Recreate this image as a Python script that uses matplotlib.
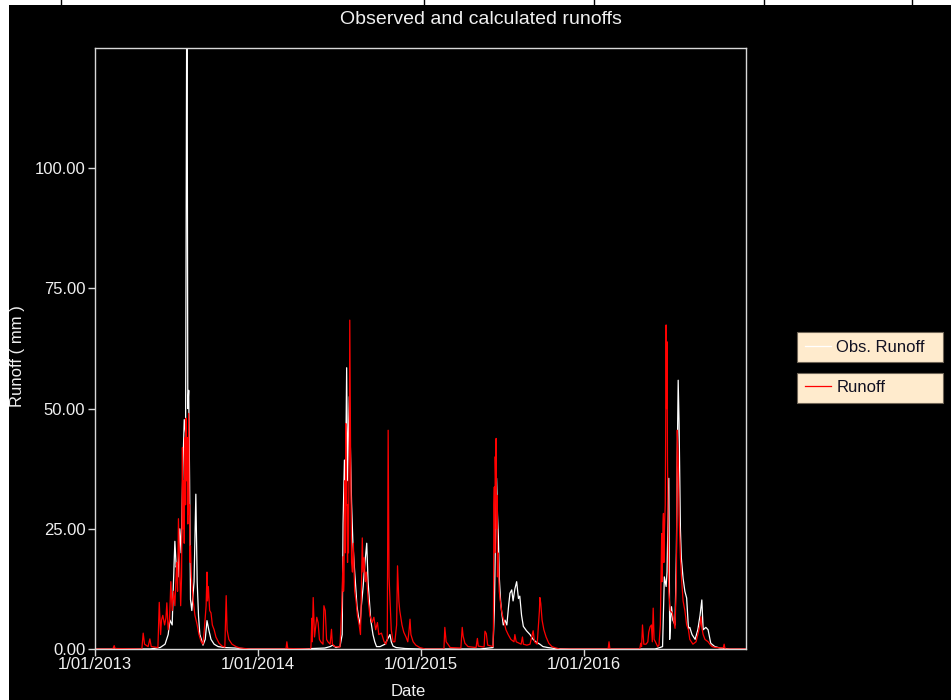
import matplotlib
matplotlib.use("Agg")
import matplotlib.pyplot as plt
import pandas as pd
from matplotlib.patches import Rectangle
from matplotlib.lines import Line2D

plt.rcParams['font.family'] = ['Liberation Sans', 'DejaVu Sans']

# ---------------- data (day offset from record start, runoff in mm) ----------------
record_start = "2013-01-01"
record_end_day = 1459

obs_2013 = [(0, 0), (123, 0), (146, 0.3), (157, 1), (164, 3), (168, 6), (173, 5), (175, 11.5),
            (179, 22.4), (182, 17), (184, 18), (186, 15), (190, 25), (193, 20), (197, 38),
            (200, 47.7), (203, 45), (206, 150), (208, 50), (210, 53.8), (212, 35), (214, 10.3),
            (217, 8), (222, 14), (226, 32.2), (229, 14), (232, 6.9), (235, 3), (240, 1.5),
            (242, 0.8), (247, 2), (251, 5.9), (255, 4), (260, 2), (267, 1), (276, 0.5),
            (291, 0.3), (314, 0.2), (347, 0)]
obs_2014 = [(459, 0), (515, 0.2), (527, 0.5), (533, 0.8), (540, 0.3), (549, 0.5), (554, 3),
            (556, 26.1), (559, 39.3), (561, 30), (564, 58.5), (566, 35), (568, 45), (570, 52.5),
            (575, 30.3), (578, 22), (582, 16), (585, 12), (587, 9), (590, 7), (594, 5), (597, 9),
            (601, 13), (605, 18), (609, 22), (612, 14), (615, 10), (618, 6), (623, 3), (627, 1.5),
            (631, 0.5), (639, 0.5), (650, 1), (661, 3), (664, 1.5), (668, 0.6), (675, 0.3),
            (695, 0.1), (728, 0)]
obs_2015 = [(751, 0), (863, 0), (892, 0.3), (895, 8), (897, 20), (900, 35.5), (902, 28),
            (904, 23.4), (906, 15), (909, 10), (911, 8), (915, 5), (919, 6), (923, 5), (927, 9),
            (930, 11.6), (934, 12.3), (937, 10), (941, 12.5), (945, 14), (949, 10.5), (952, 11),
            (956, 7), (960, 4.7), (967, 3.8), (975, 3), (982, 2), (988, 1.5), (997, 1),
            (1004, 0.5), (1015, 0.3), (1031, 0.1), (1064, 0)]
obs_2016 = [(1177, 0), (1255, 0), (1266, 0.3), (1272, 0.5), (1276, 15), (1280, 13), (1282, 16),
            (1286, 35.5), (1288, 2), (1290, 6), (1292, 8.8), (1295, 6), (1300, 5), (1303, 20),
            (1305, 40), (1307, 55.9), (1309, 47), (1312, 25), (1314, 19), (1318, 14.7),
            (1322, 12), (1326, 10.6), (1330, 4.3), (1333, 4.5), (1338, 3), (1345, 2), (1351, 4),
            (1356, 7), (1360, 10.2), (1363, 4), (1369, 4.5), (1374, 4), (1380, 1.2), (1389, 0.5),
            (1401, 0.2), (1423, 0), (1459, 0)]

sim_2013 = [(0, 0), (40, 0), (43, 0.7), (45, 0.1), (105, 0), (108, 3.3), (111, 1), (119, 0.5),
            (123, 2.1), (126, 0.5), (141, 0.3), (144, 9.7), (147, 3), (149, 6), (152, 7),
            (156, 5), (159, 6.5), (161, 9.6), (164, 4), (167, 6), (170, 14), (173, 8), (176, 12),
            (179, 9), (183, 18), (185, 12), (187, 27.1), (189, 20), (192, 9), (194, 15),
            (196, 41.9), (197, 25), (198, 30), (199, 35), (200, 22), (201, 38), (202, 44),
            (203, 30), (204, 48), (205, 35), (206, 40), (207, 44), (208, 26), (209, 38),
            (210, 49), (211, 28), (212, 30), (213, 18), (214, 21.4), (216, 15), (220, 10),
            (224, 7), (229, 5), (233, 3), (238, 1.5), (242, 1), (245, 4), (249, 9), (251, 16),
            (252, 10), (254, 13), (257, 8), (260, 7.5), (263, 5), (267, 4), (271, 2.5),
            (278, 1.2), (285, 0.6), (291, 0.4), (294, 11.1), (296, 4), (300, 2), (307, 1),
            (316, 0.5), (325, 0.2), (347, 0), (428, 0), (430, 1.5), (432, 0.1), (482, 0)]
sim_2014 = [(484, 0.3), (486, 6.4), (487, 1.5), (489, 10.7), (492, 2.5), (497, 6.6), (500, 5.5),
            (503, 2), (506, 1.5), (511, 1), (513, 9.0), (516, 8), (519, 2), (522, 1.5), (527, 1),
            (530, 4.1), (532, 1), (538, 0.5), (549, 0.4), (553, 8.8), (556, 19.2), (557, 12),
            (558, 14), (559, 28), (560, 35), (561, 20), (562, 46.9), (563, 30), (564, 35),
            (565, 25), (566, 18), (567, 30), (568, 20), (569, 34), (570, 40), (571, 68.4),
            (572, 52.8), (573, 38), (574, 30), (575, 18), (577, 16), (579, 22), (582, 12),
            (585, 10), (588, 7), (592, 5), (595, 3), (597, 12), (599, 23.1), (601, 16),
            (603, 19), (606, 14), (608, 16), (612, 10.5), (616, 7), (621, 5.5), (625, 6.6),
            (629, 4), (633, 5.5), (636, 3), (642, 3.3), (648, 1.5), (652, 1), (655, 2),
            (657, 45.5), (659, 15), (661, 10.5), (664, 4), (668, 1.5), (672, 1.5), (676, 5),
            (678, 17.3), (681, 10), (683, 8), (688, 5), (692, 3.5), (697, 2.5), (701, 1.5),
            (704, 4), (706, 6.2), (708, 3), (713, 1.5), (719, 0.8), (728, 0.3), (740, 0)]
sim_2015 = [(782, 0), (784, 4.5), (787, 1.5), (791, 1), (796, 0.3), (820, 0.2), (823, 4.5),
            (825, 2.7), (829, 1.2), (836, 0.5), (854, 0.3), (857, 2.2), (859, 0.6), (872, 0.4),
            (874, 3.7), (877, 3.2), (880, 0.8), (892, 0.5), (893, 5), (894, 30), (895, 33.7),
            (896, 20), (897, 40), (898, 35), (899, 43.8), (900, 25), (901, 32), (902, 15),
            (903, 20), (904, 17.6), (906, 12), (908, 10.2), (912, 7.5), (917, 5.5), (921, 4),
            (926, 3), (932, 2), (939, 1.5), (941, 3), (944, 1.5), (955, 1), (958, 2.5), (960, 1),
            (968, 0.8), (975, 1), (982, 3.8), (985, 1.5), (991, 1), (996, 8), (997, 10.7),
            (999, 9.5), (1002, 6), (1006, 4), (1011, 2.5), (1017, 1.2), (1024, 0.5), (1033, 0.2),
            (1042, 0), (1150, 0), (1152, 1.5), (1154, 0)]
sim_2016 = [(1221, 0), (1223, 1.2), (1225, 0.5), (1227, 5), (1230, 1), (1235, 1), (1239, 1.5),
            (1241, 3.5), (1244, 4.6), (1247, 5), (1249, 1.5), (1251, 8.5), (1253, 2), (1256, 1.5),
            (1261, 0.5), (1264, 0.8), (1267, 5), (1270, 24), (1271, 14), (1272, 20), (1273, 26),
            (1274, 28.2), (1275, 18), (1276, 24), (1277, 27), (1278, 30), (1279, 45),
            (1280, 67.4), (1281, 50), (1282, 63.9), (1283, 40), (1284, 30), (1286, 12),
            (1289, 8), (1294, 7.5), (1300, 4.3), (1303, 15), (1305, 45.5), (1307, 40), (1309, 28),
            (1312, 19), (1315, 14), (1318, 10), (1322, 8), (1326, 5), (1330, 4), (1333, 2),
            (1340, 1), (1347, 1.5), (1351, 3), (1356, 5), (1358, 6.7), (1360, 4.5), (1363, 3),
            (1367, 2), (1374, 1.5), (1378, 1), (1383, 0.5), (1392, 0.3), (1408, 0.2), (1410, 1),
            (1412, 0), (1459, 0)]

y_ticks = [0, 25, 50, 75, 100]
x_tick_dates = ["2013-01-01", "2014-01-01", "2015-01-01", "2016-01-01"]
x_tick_labels = ["1/01/2013", "1/01/2014", "1/01/2015", "1/01/2016"]
series_names = ["Obs. Runoff", "Runoff"]
title_text = "Observed and calculated runoffs"


def to_series(*parts):
    pts = [p for part in parts for p in part]
    days = [d for d, _ in pts]
    vals = [v for _, v in pts]
    dates = pd.Timestamp(record_start) + pd.to_timedelta(days, unit="D")
    return dates, vals


obs_dates, obs_vals = to_series(obs_2013, obs_2014, obs_2015, obs_2016)
sim_dates, sim_vals = to_series(sim_2013, sim_2014, sim_2015, sim_2016)

W, H = 951, 700
fig = plt.figure(figsize=(W / 100, H / 100), dpi=100)
fig.patch.set_facecolor("black")

# white strips of the surrounding screenshot
fig.patches.append(Rectangle((0, 1 - 5 / H), 1, 5 / H, transform=fig.transFigure,
                             facecolor="white", edgecolor="none", zorder=0))
fig.patches.append(Rectangle((0, 0), 9 / W, 1, transform=fig.transFigure,
                             facecolor="white", edgecolor="none", zorder=0))
for xp in [61, 424, 594, 764, 912]:
    fig.add_artist(Line2D([xp / W, xp / W], [1 - 5 / H, 1], transform=fig.transFigure,
                          color="black", lw=1))

ax = fig.add_axes([95 / W, (H - 649) / H, (746 - 95) / W, (649 - 48) / H])
ax.set_facecolor("black")

spine_c = "#d8d8d8"
text_c = "#f0f0f0"
fs = 12

l_obs, = ax.plot(obs_dates, obs_vals, color="white", lw=0.9, label=series_names[0])
l_sim, = ax.plot(sim_dates, sim_vals, color="#ff0000", lw=0.9, label=series_names[1])

ax.set_xlim(pd.Timestamp(record_start), pd.Timestamp(record_start) + pd.Timedelta(days=record_end_day))
ax.set_ylim(0, 125)

ax.set_yticks(y_ticks)
ax.set_yticklabels([f"{v:.2f}" for v in y_ticks])
ax.set_xticks(pd.to_datetime(x_tick_dates))
ax.set_xticklabels(x_tick_labels)

for s in ax.spines.values():
    s.set_color(spine_c)
    s.set_linewidth(1)
ax.tick_params(axis="both", colors=spine_c, labelcolor=text_c, length=5, width=1,
               direction="out", labelsize=fs)
ax.tick_params(axis="x", pad=1)
ax.tick_params(axis="y", pad=2)

ax.set_xlabel("Date", color=text_c, fontsize=fs)
ax.xaxis.set_label_coords((408 - 95) / 651, -(691 - 649) / 601)
ax.set_ylabel("Runoff ( mm )", color=text_c, fontsize=fs)
ax.yaxis.set_label_coords((18 - 95) / 651, (649 - 356) / 601)
ax.xaxis.label.set_va("center")
ax.yaxis.label.set_va("center")

fig.text(481 / W, 1 - 19 / H, title_text, color=text_c, fontsize=14, ha="center", va="center")

# two separate legend boxes
for handle, name, ytop, ybot in [(l_obs, series_names[0], 331, 363),
                                 (l_sim, series_names[1], 371, 404)]:
    leg = ax.legend([handle], [name], loc="center", mode="expand",
                    bbox_to_anchor=(797 / W, (H - ybot) / H, 146 / W, (ybot - ytop) / H),
                    bbox_transform=fig.transFigure, frameon=True, fancybox=False,
                    facecolor="#ffebcd", edgecolor="#6e6456", framealpha=1,
                    fontsize=fs, handlelength=1.6, handletextpad=0.3,
                    borderpad=0.45, borderaxespad=0)
    leg.get_frame().set_linewidth(0.8)
    for t in leg.get_texts():
        t.set_color("#111122")
    fig.add_artist(leg)
ax.legend_ = None

fig.savefig("out.png", dpi=100, facecolor=fig.get_facecolor())
